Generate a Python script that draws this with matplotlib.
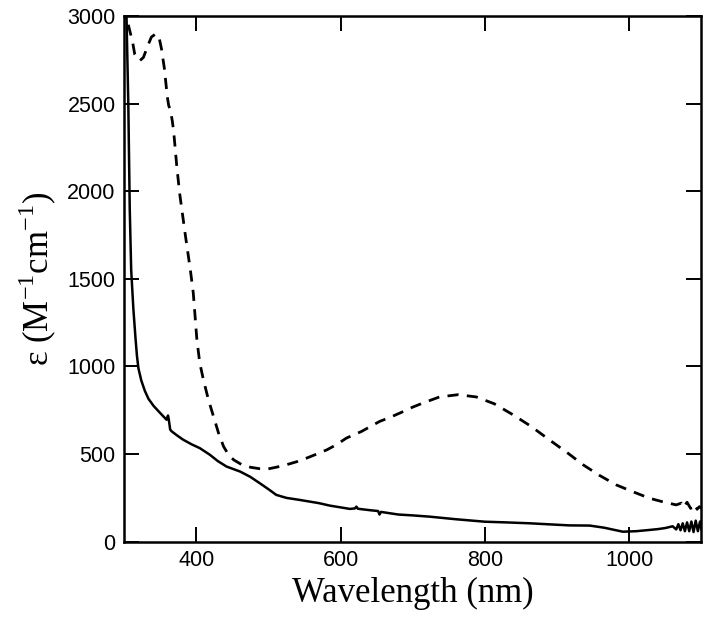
import matplotlib
matplotlib.use('Agg')
import matplotlib.pyplot as plt
import numpy as np

plt.rcParams['font.family'] = ['Liberation Sans', 'DejaVu Sans']
plt.rcParams['mathtext.fontset'] = 'custom'
plt.rcParams['mathtext.rm'] = 'Liberation Serif'

# solid trace
solid_nm = [303, 306, 308, 310, 313, 316, 318, 320, 324, 329, 334, 341, 350, 359, 361, 362, 364,
            366, 374, 382, 394, 405, 419, 430, 442, 461, 475, 488, 500, 511, 525, 544, 570,
            585, 613, 620, 622, 624, 640, 652, 654, 656, 680, 700, 723, 760, 800, 830, 862,
            889, 917, 945, 965, 991, 1010, 1028, 1040, 1050, 1060, 1065, 1068, 1071, 1074,
            1077, 1080, 1083, 1086, 1089, 1092, 1095, 1098, 1100]
solid_eps = [3100, 2500, 1900, 1550, 1330, 1160, 1060, 990, 920, 860, 815, 775, 735, 696, 720, 700, 640,
             630, 605, 582, 555, 534, 496, 460, 429, 400, 370, 334, 300, 267, 250, 238, 220,
             206, 187, 190, 200, 188, 180, 175, 155, 170, 155, 150, 143, 128, 114, 110, 105,
             99, 93, 92, 80, 57, 60, 67, 72, 78, 88, 70, 100, 65, 105, 60, 110, 60, 115,
             55, 120, 60, 115, 70]

# dashed trace
dash_nm = [306, 309, 312, 315, 318, 322, 327, 333, 338, 343, 348, 352, 356, 360, 362, 364,
           367, 369, 373, 377, 385, 392, 396, 401, 405, 410, 417, 424, 431, 438, 445, 452,
           463, 475, 487, 498, 511, 525, 539, 553, 567, 581, 595, 608, 629, 654, 670, 687,
           700, 714, 737, 763, 788, 813, 839, 864, 889, 915, 936, 958, 982, 1005, 1028,
           1046, 1065, 1072, 1075, 1080, 1085, 1090, 1094, 1097, 1100]
dash_eps = [2950, 2900, 2850, 2780, 2760, 2745, 2764, 2830, 2880, 2895, 2890, 2812, 2700, 2540,
            2488, 2469, 2400, 2335, 2150, 1992, 1750, 1550, 1420, 1153, 1020, 925, 810, 715,
            620, 543, 495, 467, 440, 425, 417, 414, 425, 439, 456, 477, 500, 524, 555, 591,
            629, 686, 712, 743, 768, 791, 826, 839, 826, 787, 724, 658, 582, 505, 439, 380,
            324, 285, 248, 228, 210, 220, 195, 225, 190, 215, 185, 200, 190]

fig = plt.figure(figsize=(7.1, 6.25), dpi=100)
ax = fig.add_axes([0.1746, 0.1333, 0.8134, 0.8411])

ax.plot(solid_nm, solid_eps, color='black', lw=1.8)
ax.plot(dash_nm, dash_eps, color='black', lw=2.0, ls=(0, (4, 3)))

ax.set_xlim(300, 1100)
ax.set_ylim(0, 3000)
ax.set_xticks([400, 600, 800, 1000])
ax.set_yticks(np.arange(0, 3001, 500))

for s in ax.spines.values():
    s.set_linewidth(1.8)
ax.tick_params(direction='in', length=11, width=1.4, top=True, right=True,
               labelsize=15.5, pad=6)

ax.set_xlabel('Wavelength (nm)', fontfamily='Liberation Serif', fontsize=25, labelpad=4)
ax.set_ylabel(r'ε (M$^{\mathrm{-1}}$cm$^{\mathrm{-1}}$)', fontfamily='Liberation Serif',
              fontsize=25, labelpad=6)

fig.savefig('out.png', dpi=100)
